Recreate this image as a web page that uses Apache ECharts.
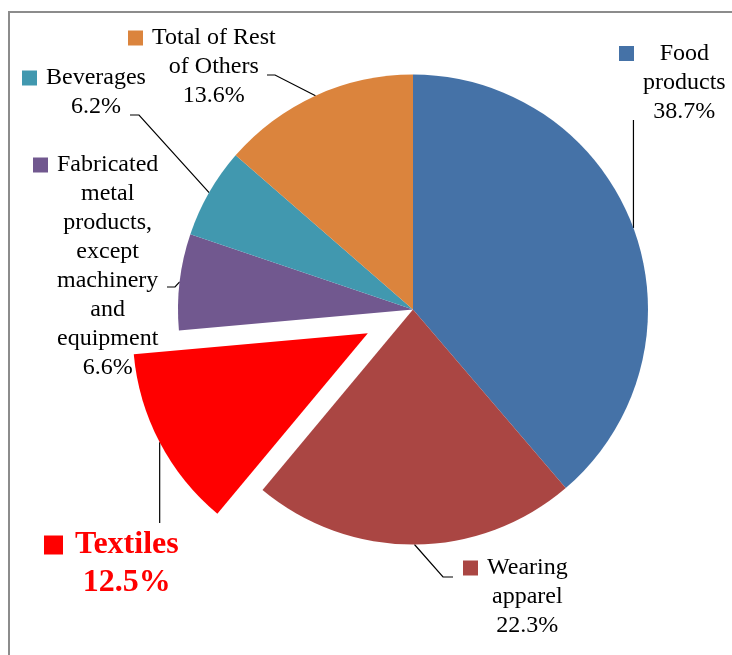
<!DOCTYPE html>
<html>
<head>
<meta charset="utf-8">
<script src="https://cdn.jsdelivr.net/npm/echarts@6/dist/echarts.min.js"></script>
<style>
  html, body { margin: 0; padding: 0; background: #fff; }
  #chart { width: 732px; height: 655px; }
</style>
</head>
<body>
<div id="chart"></div>
<script>
// Share of manufacturing output by industry (%)
const categories = [
  'Food\nproducts',
  'Wearing\napparel',
  'Textiles',
  'Fabricated\nmetal\nproducts,\nexcept\nmachinery\nand\nequipment',
  'Beverages',
  'Total of Rest\nof Others'
];
const shares = [38.7, 22.3, 12.5, 6.6, 6.2, 13.6];
const sliceColors = ['#4572A7', '#AA4643', '#FF0000', '#71588F', '#4198AF', '#DB843D'];
const highlighted = 'Textiles';

// Pie geometry
const CENTER = [413, 309.5];
const RADIUS = 235;
const EXPLODE = 51;

// Label box (top-left) and leader-line routing for each slice
const labelPlacement = [
  { box: [619, 39], vy: 120 },
  { box: [463, 553.5], bend: [[443, 577], [453, 577]] },
  { box: [44, 526], vy: 523 },
  { box: [33, 150.5], bend: [[175, 287], [167, 287]] },
  { box: [22, 63.5], bend: [[139, 115], [130, 115]] },
  { box: [128, 23.5], bend: [[275, 75], [267, 75]] }
];

const FONT = '"Liberation Serif", "Times New Roman", serif';

function richFor(color, strong) {
  const size = strong ? 32 : 24;
  const lh = strong ? 38 : 29;
  const sq = strong ? 19 : 15;
  const gap = strong ? 12 : 9;
  return {
    sq: { width: sq, height: sq, backgroundColor: color, align: 'left', lineHeight: lh },
    gap: { width: gap, align: 'left', lineHeight: lh },
    sp: { width: sq + gap, align: 'left', lineHeight: lh },
    t: {
      fontFamily: FONT, fontSize: size, lineHeight: lh,
      fontWeight: strong ? 'bold' : 'normal',
      color: strong ? '#FF0000' : '#000', align: 'center'
    }
  };
}

function labelText(name, value) {
  const lines = name.split('\n').concat([value.toFixed(1) + '%']);
  return lines.map(function (line, i) {
    return (i === 0 ? '{sq| }{gap| }' : '{sp| }') + '{t|' + line + '}';
  }).join('\n');
}

// The highlighted slice is pulled out along its bisector
const total = shares.reduce(function (s, v) { return s + v; }, 0);
const hiIdx = categories.indexOf(highlighted);
const before = shares.slice(0, hiIdx).reduce(function (s, v) { return s + v; }, 0);
const midAngle = (before + shares[hiIdx] / 2) / total * Math.PI * 2; // clockwise from 12 o'clock
const explodedCenter = [
  CENTER[0] + EXPLODE * Math.sin(midAngle),
  CENTER[1] - EXPLODE * Math.cos(midAngle)
];

const HIDDEN = {
  itemStyle: { opacity: 0 },
  label: { show: false },
  labelLine: { show: false }
};

function buildData(showHighlighted) {
  return categories.map(function (name, i) {
    const isHi = name === highlighted;
    const item = { name: name, value: shares[i] };
    if (isHi !== showHighlighted) return Object.assign(item, HIDDEN);
    item.itemStyle = { color: sliceColors[i] };
    item.label = { rich: richFor(sliceColors[i], isHi) };
    return item;
  });
}

function pieSeries(center, data) {
  return {
    type: 'pie',
    center: center,
    radius: RADIUS,
    startAngle: 90,
    clockwise: true,
    avoidLabelOverlap: false,
    silent: true,
    itemStyle: { borderWidth: 0 },
    emphasis: { disabled: true, scale: false },
    label: {
      show: true,
      position: 'outside',
      lineHeight: 29,
      formatter: function (p) { return labelText(p.name, p.value); }
    },
    labelLine: {
      show: true,
      length: 10,
      length2: 10,
      lineStyle: { color: '#000', width: 1.2 }
    },
    labelLayout: function (p) {
      const cfg = labelPlacement[p.dataIndex];
      const out = { x: cfg.box[0], y: cfg.box[1], align: 'left', verticalAlign: 'top' };
      const pts = p.labelLinePoints;
      if (pts && pts.length) {
        const a = pts[0];
        out.labelLinePoints = cfg.vy != null
          ? [a, [a[0], cfg.vy], [a[0], cfg.vy]]
          : [a, cfg.bend[0], cfg.bend[1]];
      }
      return out;
    },
    data: data
  };
}

const chart = echarts.init(document.getElementById('chart'), null, { renderer: 'canvas' });

chart.setOption({
  animation: false,
  backgroundColor: '#fff',
  graphic: [{
    type: 'rect',
    shape: { x: 9, y: 12, width: 900, height: 900 },
    style: { fill: 'none', stroke: '#8c8c8c', lineWidth: 2 },
    silent: true,
    z: -1
  }],
  series: [
    pieSeries(CENTER, buildData(false)),
    pieSeries(explodedCenter, buildData(true))
  ]
});
</script>
</body>
</html>
